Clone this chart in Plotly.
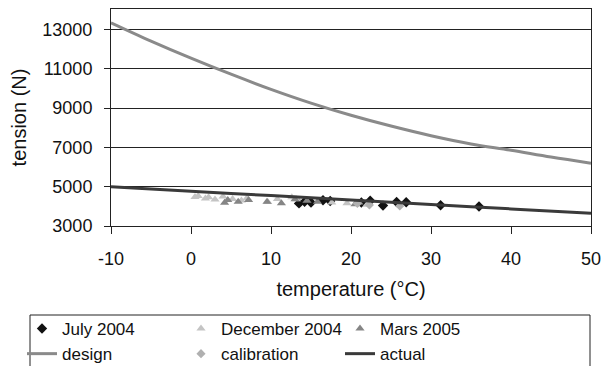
import plotly.graph_objects as go

# Model curves
design_t = [-10, -5, 0, 5, 10, 15, 20, 25, 30, 35, 40, 45, 50]
design_v = [13350, 12420, 11550, 10730, 9960, 9260, 8640, 8090, 7600, 7180, 6860, 6510, 6200]

actual_t = [-10, 0, 10, 20, 30, 40, 50]
actual_v = [5000, 4770, 4550, 4320, 4100, 3870, 3650]

# Measurements
july_t = [13.5, 14.2, 15.0, 16.5, 17.4, 21.3, 22.4, 24.0, 25.7, 26.9, 31.2, 36.0]
july_v = [4150, 4230, 4200, 4310, 4270, 4200, 4290, 4040, 4220, 4210, 4060, 3990]

dec_t = [0.5, 0.9, 1.8, 2.2, 3.0, 4.0, 5.2, 6.3, 7.0, 9.6, 10.8, 12.6, 13.2, 17.6, 19.5, 22.0]
dec_v = [4480, 4530, 4400, 4460, 4350, 4500, 4380, 4300, 4420, 4220, 4380, 4460, 4360, 4200, 4160, 4080]

mars_t = [4.2, 4.6, 5.9, 7.2, 9.5, 11.3, 13.0, 14.5, 15.8, 20.5, 21.0]
mars_v = [4190, 4330, 4240, 4330, 4240, 4160, 4360, 4290, 4230, 4110, 4200]

calib_t = [20.8, 22.3, 26.1]
calib_v = [4150, 4070, 4020]

x_ticks = [-10, 0, 10, 20, 30, 40, 50]
x_labels = ["-10", "0", "10", "20", "30", "40", "50"]
y_ticks = [3000, 5000, 7000, 9000, 11000, 13000]
y_labels = ["3000", "5000", "7000", "9000", "11000", "13000"]

FONT = "Liberation Sans, Arial, sans-serif"
W, H = 603, 366
ML, MR, MT, MB = 111, 12, 9, 140
PW, PH = W - ML - MR, H - MT - MB

def px_x(sx):
    return (sx - ML) / PW

def px_y(sy):
    return (H - MB - sy) / PH

fig = go.Figure()
fig.add_trace(go.Scatter(x=july_t, y=july_v, mode="markers", name="July 2004",
                         marker=dict(symbol="diamond", size=8, color="#111111")))
fig.add_trace(go.Scatter(x=dec_t, y=dec_v, mode="markers", name="December 2004",
                         marker=dict(symbol="triangle-up", size=8, color="#c4c4c4")))
fig.add_trace(go.Scatter(x=mars_t, y=mars_v, mode="markers", name="Mars 2005",
                         marker=dict(symbol="triangle-up", size=8, color="#858585")))
fig.add_trace(go.Scatter(x=design_t, y=design_v, mode="lines", name="design",
                         line=dict(color="#8a8a8a", width=3, shape="spline")))
fig.add_trace(go.Scatter(x=calib_t, y=calib_v, mode="markers", name="calibration",
                         marker=dict(symbol="diamond", size=7, color="#b0b0b0")))
fig.add_trace(go.Scatter(x=actual_t, y=actual_v, mode="lines", name="actual",
                         line=dict(color="#3a3a3a", width=3, shape="spline")))

# legend frame (wider than the entries, as in the original)
fig.add_shape(type="rect", xref="paper", yref="paper",
              x0=px_x(30), x1=px_x(590), y0=px_y(380), y1=px_y(315),
              line=dict(color="#222222", width=1), fillcolor="rgba(0,0,0,0)",
              layer="above")

fig.update_layout(
    template="none",
    width=W, height=H,
    margin=dict(l=ML, r=MR, t=MT, b=MB, autoexpand=False),
    paper_bgcolor="white", plot_bgcolor="white",
    font=dict(family=FONT, size=18, color="#111111"),
    showlegend=True,
    legend=dict(orientation="h", x=22 / W, xref="container",
                y=1 - 311 / H, yref="container", xanchor="left", yanchor="top",
                borderwidth=0, bgcolor="rgba(0,0,0,0)",
                font=dict(family=FONT, size=17, color="#111111"),
                entrywidth=114, itemwidth=30, traceorder="normal"),
    xaxis=dict(range=[-10, 50], tickvals=x_ticks, ticktext=x_labels, automargin=False,
               ticks="outside", ticklen=7, tickcolor="#222", ticklabelstandoff=9,
               showgrid=False, zeroline=False,
               showline=True, linecolor="#222", linewidth=1, mirror=True,
               title=dict(text="temperature (°C)", standoff=14, font=dict(size=20)),
               tickfont=dict(size=18)),
    yaxis=dict(range=[3000, 14050], tickvals=y_ticks, ticktext=y_labels, automargin=False,
               ticks="outside", ticklen=6, tickcolor="#222", ticklabelstandoff=8,
               showgrid=True, gridcolor="#222", gridwidth=1,
               zeroline=False, showline=True, linecolor="#222", linewidth=1, mirror=True,
               title=dict(text="tension (N)", standoff=10, font=dict(size=20)),
               tickfont=dict(size=18)),
)

fig.write_html("out.html",
               config={"displayModeBar": False},
               post_script="document.body.style.margin='0';"
                           "document.body.style.overflow='hidden';")
